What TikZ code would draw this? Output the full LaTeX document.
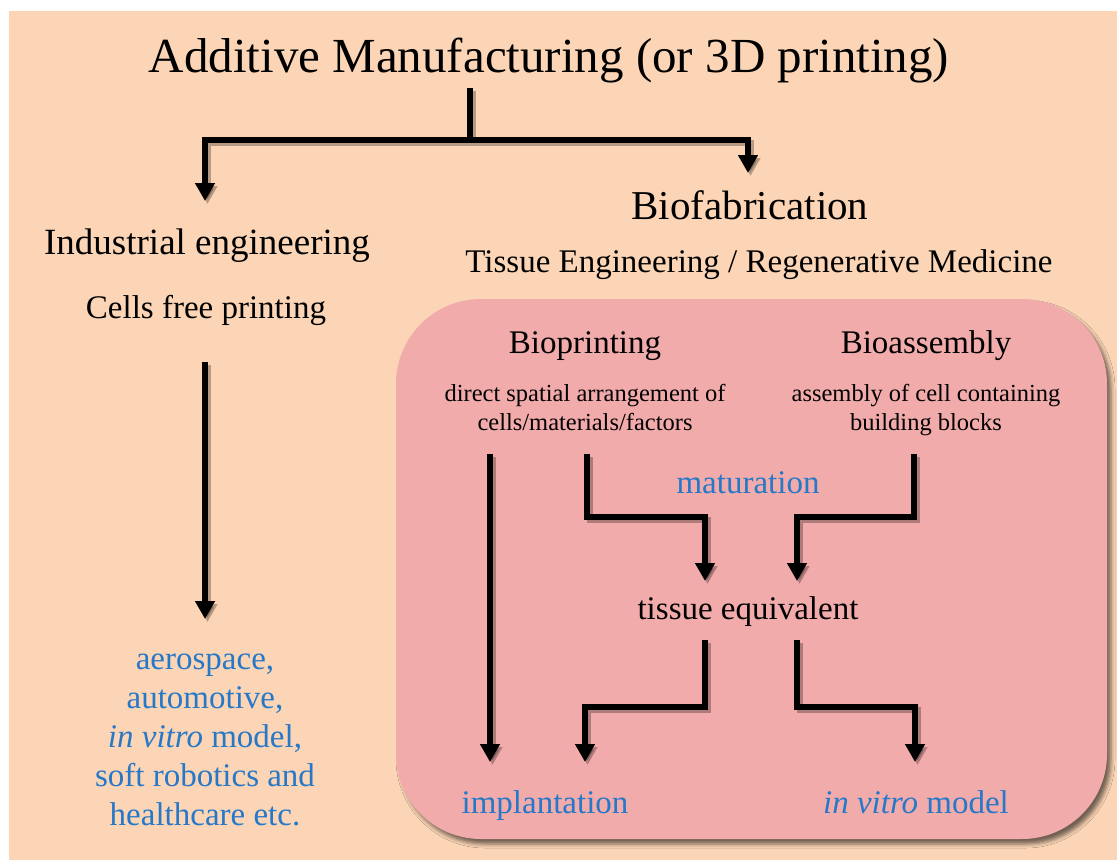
\documentclass[tikz,border=0pt]{standalone}
\usepackage{fontspec}
\setmainfont{Liberation Serif}
\usetikzlibrary{arrows.meta,shadows.blur}

\definecolor{peach}{RGB}{251,213,181}
\definecolor{rosebox}{RGB}{242,171,171}
\definecolor{appblue}{RGB}{38,120,200}

\tikzset{
  txt/.style={inner sep=0pt, anchor=base, font=\fontsize{33}{39}\selectfont},
  small/.style={txt, font=\fontsize{24.5}{29}\selectfont},
  bluetxt/.style={txt, text=appblue},
  conn/.style={line width=6pt, line join=miter, draw=black,
    preaction={draw=black, opacity=0.28, line width=6pt,
      transform canvas={shift={(2.5pt,-3pt)}}}},
  arr/.style={conn, -{Triangle[width=19pt,length=18pt]}},
}

\begin{document}
\begin{tikzpicture}[x=1pt,y=-1pt]
% page and backdrop
\useasboundingbox (0,0) rectangle (1117,860);
\fill[white] (0,0) rectangle (1117,860);
\fill[peach] (9,11) rectangle (1117,860);

% biofabrication panel
\path[fill=rosebox, rounded corners=85pt,
  blur shadow={shadow xshift=4pt, shadow yshift=-5pt, shadow blur radius=4pt, shadow opacity=55}]
  (396,299) rectangle (1107,839);

% headings
\node[txt, font=\fontsize{49}{56}\selectfont] (title) at (549,72) {Additive Manufacturing (or 3D printing)};
\node[txt, font=\fontsize{41}{48}\selectfont] (biofab) at (750,219) {Biofabrication};
\node[txt, font=\fontsize{37}{44}\selectfont] (indeng) at (207,254) {Industrial engineering};
\node[txt] (tissue) at (759,272) {Tissue Engineering / Regenerative Medicine};
\node[txt] (cellfree) at (206,318) {Cells free printing};

% industrial applications
\node[bluetxt] (app1) at (205,669) {aerospace,};
\node[bluetxt] (app2) at (205,708) {automotive,};
\node[bluetxt] (app3) at (205,747) {\textit{in vitro} model,};
\node[bluetxt] (app4) at (205,786) {soft robotics and};
\node[bluetxt] (app5) at (205,825) {healthcare etc.};

% panel contents
\node[txt] (bioprint) at (585,353) {Bioprinting};
\node[txt] (bioassem) at (926,353) {Bioassembly};
\node[small] (bp1) at (585,401) {direct spatial arrangement of};
\node[small] (bp2) at (585,430) {cells/materials/factors};
\node[small] (ba1) at (926,401) {assembly of cell containing};
\node[small] (ba2) at (926,430) {building blocks};
\node[bluetxt] (matur) at (748,493) {maturation};
\node[txt] (tissueq) at (748,619) {tissue equivalent};
\node[bluetxt] (implant) at (545,813) {implantation};
\node[bluetxt] (invitro) at (916,813) {\textit{in vitro} model};

% connector anchor points
\coordinate (trunk) at (470,88);
\coordinate (split) at (470,140);
\coordinate (indTip) at (205,201);
\coordinate (bioTip) at (748,173);
\coordinate (cfStart) at (205,362);
\coordinate (cfTip) at (205,619);
\coordinate (bpA) at (490,454);
\coordinate (bpB) at (587,454);
\coordinate (baA) at (914,454);
\coordinate (teL) at (705,581);
\coordinate (teR) at (797,581);
\coordinate (teOutL) at (705,640);
\coordinate (teOutR) at (797,640);
\coordinate (impTipA) at (490,762);
\coordinate (impTipB) at (585,762);
\coordinate (ivTip) at (915,762);

% connectors
\draw[conn] (trunk) -- (split);
\draw[arr] (split) -| (indTip);
\draw[arr] (split) -| (bioTip);
\draw[arr] (cfStart) -- (cfTip);
\draw[arr] (bpA) -- (impTipA);
\draw[arr] (bpB) |- (705,517) -- (teL);
\draw[arr] (baA) |- (797,517) -- (teR);
\draw[arr] (teOutL) |- (585,707) -- (impTipB);
\draw[arr] (teOutR) |- (915,707) -- (ivTip);
\end{tikzpicture}
\end{document}
